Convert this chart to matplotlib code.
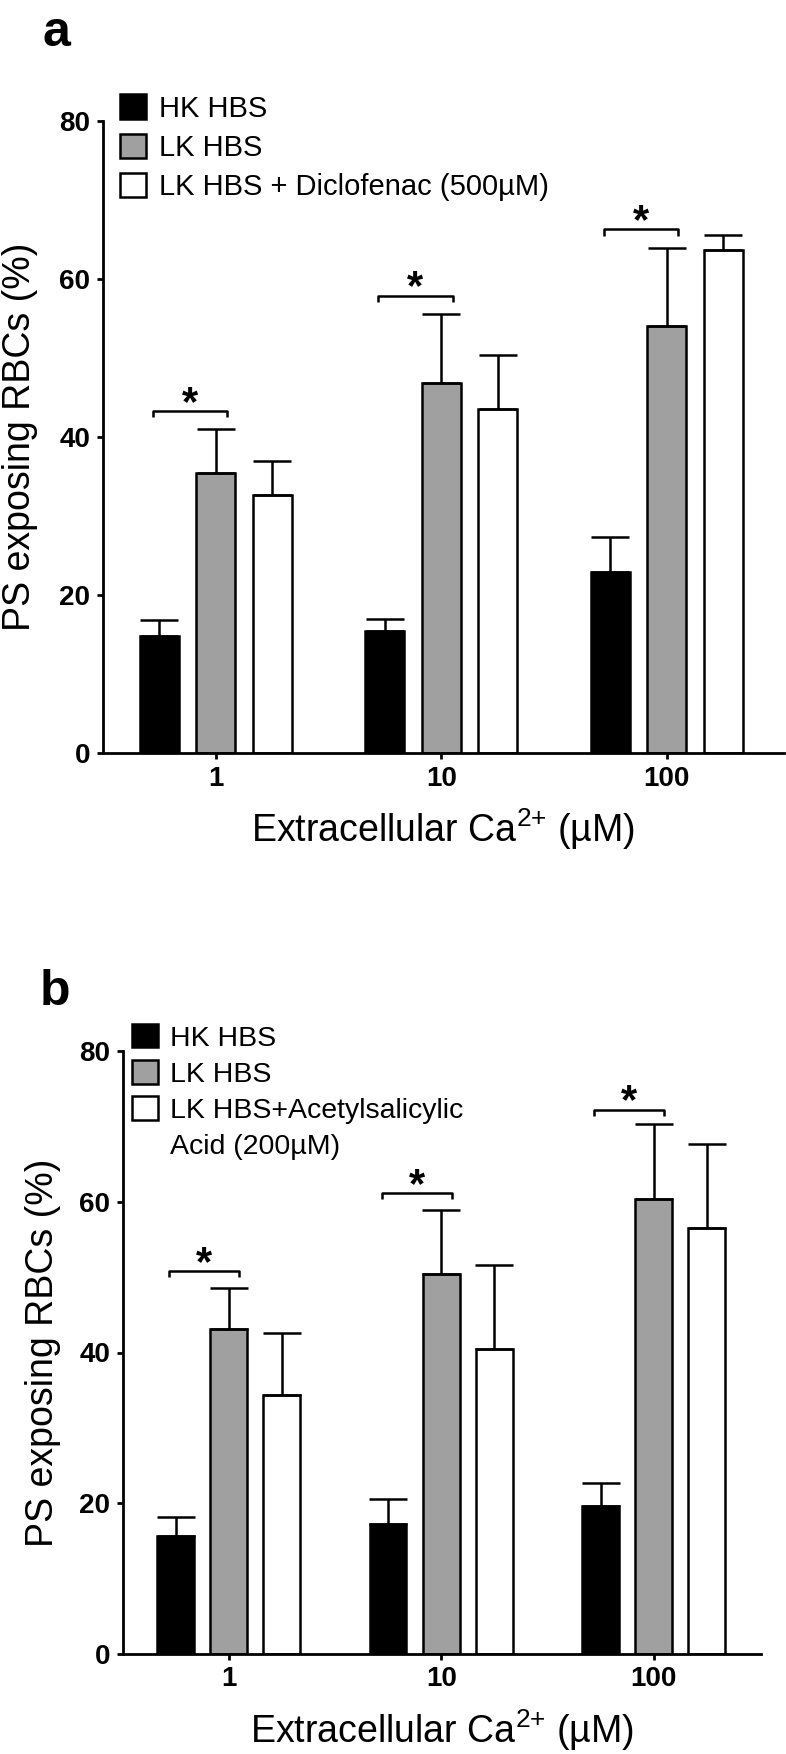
import numpy as np
import matplotlib
matplotlib.use('Agg')
import matplotlib.pyplot as plt
from matplotlib.patches import Patch

plt.rcParams['font.family'] = ['Liberation Sans', 'DejaVu Sans']
plt.rcParams['mathtext.fontset'] = 'custom'
plt.rcParams['mathtext.rm'] = 'Liberation Sans'

# ---------------- data -------------------------------------
ca_levels = ['1', '10', '100']
colors = ['black', '#a0a0a0', 'white']

# panel a
a_labels = ['HK HBS', 'LK HBS', 'LK HBS + Diclofenac (500\u00b5M)']
a_hk = [14.8, 15.4, 22.9]
a_hk_err = [2.0, 1.6, 4.5]
a_lk = [35.5, 46.8, 54.0]
a_lk_err = [5.5, 8.8, 9.9]
a_dic = [32.7, 43.5, 63.7]
a_dic_err = [4.2, 6.9, 1.9]
a_sig = [43.3, 57.9, 66.3]   # height of the HK vs LK brackets

# panel b
b_labels = ['HK HBS', 'LK HBS', 'LK HBS+Acetylsalicylic', 'Acid (200\u00b5M)']
b_hk = [15.6, 17.3, 19.7]
b_hk_err = [2.6, 3.3, 3.0]
b_lk = [43.1, 50.4, 60.4]
b_lk_err = [5.5, 8.5, 9.9]
b_asa = [34.4, 40.4, 56.5]
b_asa_err = [8.2, 11.2, 11.1]
b_sig = [50.8, 61.1, 72.2]

yticks = [0, 20, 40, 60, 80]
xlabel = 'Extracellular Ca$^{\\mathrm{2{+}}}$ (\u00b5M)'
ylabel = 'PS exposing RBCs (%)'


def draw_panel(ax, means, errs, sig, xmax):
    x = np.arange(len(ca_levels))
    width = 0.173
    offsets = [-0.25, 0, 0.25]
    for m, e, off, c in zip(means, errs, offsets, colors):
        ax.bar(x + off, m, width=width, color=c, edgecolor='black', linewidth=1.8,
               yerr=[np.zeros(len(e)), e], capsize=14,
               error_kw=dict(elinewidth=1.8, capthick=1.8, ecolor='black'), zorder=2)
    for xi, s in zip(x, sig):
        x0, x1 = xi - 0.28, xi + 0.05
        ax.plot([x0, x0, x1, x1], [s - 0.8, s, s, s - 0.8], color='black', lw=1.8,
                solid_capstyle='butt')
        ax.text((x0 + x1) / 2, s - 0.5, '*', ha='center', va='baseline',
                fontsize=30, fontweight='bold')
    ax.set_xlim(-0.5, xmax)
    ax.set_ylim(0, 80)
    ax.set_xticks(x)
    ax.set_xticklabels(ca_levels)
    ax.set_yticks(yticks)
    for lab in ax.get_xticklabels() + ax.get_yticklabels():
        lab.set_fontweight('bold')
    ax.tick_params(labelsize=20, width=2, length=4, pad=5)
    ax.spines['top'].set_visible(False)
    ax.spines['right'].set_visible(False)
    ax.spines['left'].set_linewidth(2)
    ax.spines['bottom'].set_linewidth(2)
    ax.set_xlabel(xlabel, fontsize=27)
    ax.set_ylabel(ylabel, fontsize=27)


fig = plt.figure(figsize=(7.86, 17.54), dpi=100)

# ---------------- panel a -----------------
ax1 = fig.add_axes([103 / 786, 1 - 753 / 1754, 681 / 786, 632 / 1754])
draw_panel(ax1, [a_hk, a_lk, a_dic], [a_hk_err, a_lk_err, a_dic_err], a_sig, 2.52)
ax1.yaxis.set_label_coords(-0.095, 0.5)
ax1.xaxis.set_label_coords(0.5, -0.085)
h1 = [Patch(facecolor=c, edgecolor='black', linewidth=1.8) for c in colors]
ax1.legend(h1, a_labels, loc='upper left', bbox_to_anchor=(0.025, 1.042),
           frameon=False, fontsize=21, handlelength=0.9, handleheight=0.9,
           handletextpad=0.45, labelspacing=0.38, borderpad=0, borderaxespad=0)
fig.text(43 / 786, 1 - 46 / 1754, 'a', fontsize=36, fontweight='bold', va='baseline')

# ---------------- panel b -----------------
ax2 = fig.add_axes([122.5 / 786, 1 - 1654 / 1754, 638.5 / 786, 603 / 1754])
draw_panel(ax2, [b_hk, b_lk, b_asa], [b_hk_err, b_lk_err, b_asa_err], b_sig, 2.505)
ax2.yaxis.set_label_coords(-0.096, 0.5)
ax2.xaxis.set_label_coords(0.5, -0.088)
h2 = [Patch(facecolor=c, edgecolor='black', linewidth=1.8) for c in colors]
h2.append(Patch(visible=False))
ax2.legend(h2, b_labels, loc='upper left', bbox_to_anchor=(0.015, 1.045),
           frameon=False, fontsize=20.5, handlelength=0.9, handleheight=0.9,
           handletextpad=0.44, labelspacing=0.3, borderpad=0, borderaxespad=0)
fig.text(40 / 786, 1 - 1005 / 1754, 'b', fontsize=36, fontweight='bold', va='baseline')

fig.savefig('out.png', dpi=100)
